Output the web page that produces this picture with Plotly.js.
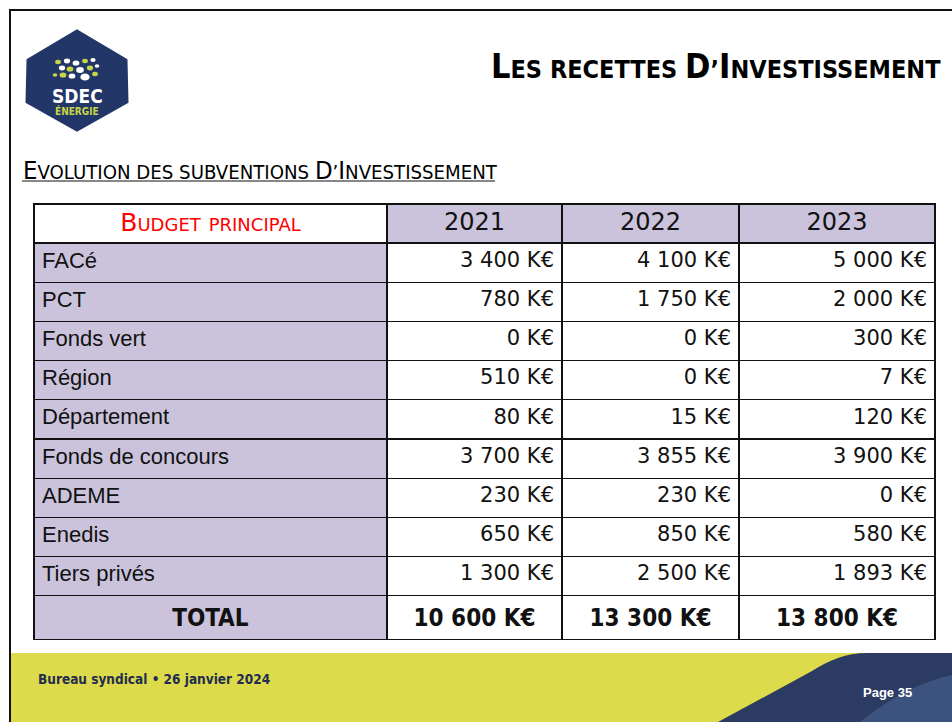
<!DOCTYPE html>
<html>
<head>
<meta charset="utf-8">
<script src="https://cdn.plot.ly/plotly-3.0.1.min.js"></script>
<style>html,body{margin:0;padding:0;background:#fff;}#chart{width:952px;height:722px;}</style>
</head>
<body>
<div id="chart"></div>
<script>
// ---- data ----
var categories = ["FACé", "PCT", "Fonds vert", "Région", "Département", "Fonds de concours", "ADEME", "Enedis", "Tiers privés"];
var years = ["2021", "2022", "2023"];
var values2021 = [3400, 780, 0, 510, 80, 3700, 230, 650, 1300];
var values2022 = [4100, 1750, 0, 0, 15, 3855, 230, 850, 2500];
var values2023 = [5000, 2000, 300, 7, 120, 3900, 0, 580, 1893];
var totals = [10600, 13300, 13800];
var totalLabel = "TOTAL";
var headerLabel = "Budget principal";

// ---- helpers ----
var W = 952, H = 722;
function X(p){ return p / W; }
function Y(p){ return 1 - p / H; }
var NB = "\u00a0";
function nb(s){ return s.replace(/ /g, NB); }
function fmt(v){ return String(v).replace(/\B(?=(\d{3})+(?!\d))/g, NB) + NB + "K€"; }

var LAV = "rgb(203,195,220)";
var LAB = "Liberation Sans, Arial, sans-serif";
var NUM = "DejaVu Sans, Verdana, sans-serif";
var COND = "DejaVu Sans Condensed, Liberation Sans Narrow, Arial Narrow, sans-serif";

var nRows = categories.length + 1;
function colArr(normal, last){ var a = []; for (var i = 0; i < nRows; i++) a.push(i === nRows - 1 ? last : normal); return a; }

var col0 = categories.map(nb).concat(["<b>" + totalLabel + "</b>"]);
var valueCols = [values2021, values2022, values2023].map(function(vals, k){
  return vals.map(fmt).concat(["<b>" + fmt(totals[k]) + "</b>"]);
});

var table = {
  type: "table",
  domain: { x: [X(34), X(935)], y: [Y(645), Y(204)] },
  columnwidth: [353, 175, 177, 196],
  header: {
    values: [nb(headerLabel)].concat(years),
    fill: { color: ["#ffffff", LAV, LAV, LAV] },
    align: "center",
    height: 39,
    line: { color: "#111", width: 1.3 },
    font: { family: [NUM, NUM, NUM, NUM], size: [25, 24, 24, 24], color: ["#ff0000", "#111", "#111", "#111"],
            variant: ["small-caps", "normal", "normal", "normal"] }
  },
  cells: {
    values: [col0].concat(valueCols),
    fill: { color: [colArr(LAV, LAV), colArr("#fff", "#fff"), colArr("#fff", "#fff"), colArr("#fff", "#fff")] },
    align: [colArr("left", "center"), colArr("right", "center"), colArr("right", "center"), colArr("right", "center")],
    height: 39.2,
    line: { color: "#111", width: 1.3 },
    font: {
      family: [colArr(LAB, COND), colArr(NUM, COND), colArr(NUM, COND), colArr(NUM, COND)],
      size: [colArr(22, 24), colArr(21, 24), colArr(21, 24), colArr(21, 24)],
      color: "#111"
    }
  }
};

// ---- decoration ----
var shapes = [];
shapes.push({ type: "path", xref: "paper", yref: "paper",
  path: "M " + X(10) + "," + Y(722) + " L " + X(10) + "," + Y(10) + " L " + X(952) + "," + Y(10),
  line: { color: "#111", width: 2 } });
shapes.push({ type: "rect", xref: "paper", yref: "paper", x0: X(11), x1: X(952), y0: Y(722), y1: Y(653),
  fillcolor: "rgb(221,219,76)", line: { width: 0 }, layer: "below" });
shapes.push({ type: "path", xref: "paper", yref: "paper",
  path: "M " + X(718) + "," + Y(722) + " L " + X(812) + "," + Y(671) +
        " C " + X(830) + "," + Y(660) + " " + X(845) + "," + Y(653) + " " + X(868) + "," + Y(653) +
        " L " + X(952) + "," + Y(653) + " L " + X(952) + "," + Y(722) + " Z",
  fillcolor: "rgb(44,59,97)", line: { width: 0 } });
shapes.push({ type: "path", xref: "paper", yref: "paper",
  path: "M " + X(860) + "," + Y(722) + " C " + X(900) + "," + Y(690) + " " + X(930) + "," + Y(680) + " " + X(952) + "," + Y(675) +
        " L " + X(952) + "," + Y(722) + " Z",
  fillcolor: "rgba(80,110,165,0.45)", line: { width: 0 } });
shapes.push({ type: "path", xref: "paper", yref: "paper",
  path: "M " + X(77) + "," + Y(31) + " L " + X(126) + "," + Y(60) + " L " + X(127) + "," + Y(102) +
        " L " + X(77) + "," + Y(130) + " L " + X(27) + "," + Y(102) + " L " + X(28) + "," + Y(60) + " Z",
  fillcolor: "rgb(34,54,104)", line: { color: "rgb(34,54,104)", width: 3 } });
var dots = [[58,62,2.2,"y"],[67,61,2.4,"w"],[76,63,2.6,"w"],[85,61,2.2,"y"],[93,60,2.0,"w"],
            [62,68,2.4,"w"],[70,69,2.6,"y"],[80,70,3.0,"w"],[90,68,2.4,"y"],[97,66,1.8,"w"],
            [55,75,1.8,"y"],[63,75,2.6,"y"],[72,76,2.6,"w"],[85,77,3.6,"w"],[95,74,2.2,"y"]];
dots.forEach(function(d){
  shapes.push({ type: "circle", xref: "paper", yref: "paper",
    x0: X(d[0]-d[2]*1.3), x1: X(d[0]+d[2]*1.3), y0: Y(d[1]+d[2]), y1: Y(d[1]-d[2]),
    fillcolor: d[3] === "y" ? "rgb(200,214,70)" : "#ffffff", line: { width: 0 } });
});
shapes.push({ type: "line", xref: "paper", yref: "paper", x0: X(22), x1: X(495), y0: Y(181), y1: Y(181),
  line: { color: "#111", width: 1.2 } });

function sc(big, small, bs){ return '<span style="font-size:' + bs + 'px">' + big + '</span>' + small; }

var annotations = [
  { xref: "paper", yref: "paper", x: X(943), y: Y(66), xanchor: "right", yanchor: "middle", showarrow: false,
    text: "<b>" + sc("L", "ES RECETTES ", 34) + sc("D", "’", 34) + sc("I", "NVESTISSEMENT", 34) + "</b>",
    font: { family: COND, size: 25, color: "#000" } },
  { xref: "paper", yref: "paper", x: X(21), y: Y(170), xanchor: "left", yanchor: "middle", showarrow: false,
    text: sc("E", "VOLUTION DES SUBVENTIONS ", 25.5) + sc("D", "’", 25.5) + sc("I", "NVESTISSEMENT", 25.5),
    font: { family: COND, size: 20.2, color: "#000" } },
  { xref: "paper", yref: "paper", x: X(77), y: Y(96), xanchor: "center", yanchor: "middle", showarrow: false,
    text: "<b>SDEC</b>", font: { family: COND, size: 19, color: "#ffffff" } },
  { xref: "paper", yref: "paper", x: X(77), y: Y(111), xanchor: "center", yanchor: "middle", showarrow: false,
    text: "<b>ÉNERGIE</b>", font: { family: COND, size: 10, color: "rgb(200,214,70)" } },
  { xref: "paper", yref: "paper", x: X(36), y: Y(679), xanchor: "left", yanchor: "middle", showarrow: false,
    text: "<b>Bureau syndical • 26 janvier 2024</b>", font: { family: COND, size: 13.5, color: "rgb(35,45,80)" } },
  { xref: "paper", yref: "paper", x: X(887), y: Y(692), xanchor: "center", yanchor: "middle", showarrow: false,
    text: "<b>Page 35</b>", font: { family: LAB, size: 13, color: "#ffffff" } }
];

var layout = {
  width: W, height: H,
  margin: { l: 0, r: 0, t: 0, b: 0 },
  paper_bgcolor: "#ffffff",
  plot_bgcolor: "#ffffff",
  showlegend: false,
  shapes: shapes,
  annotations: annotations
};

Plotly.newPlot("chart", [table], layout, { displayModeBar: false, staticPlot: true });
</script>
</body>
</html>
